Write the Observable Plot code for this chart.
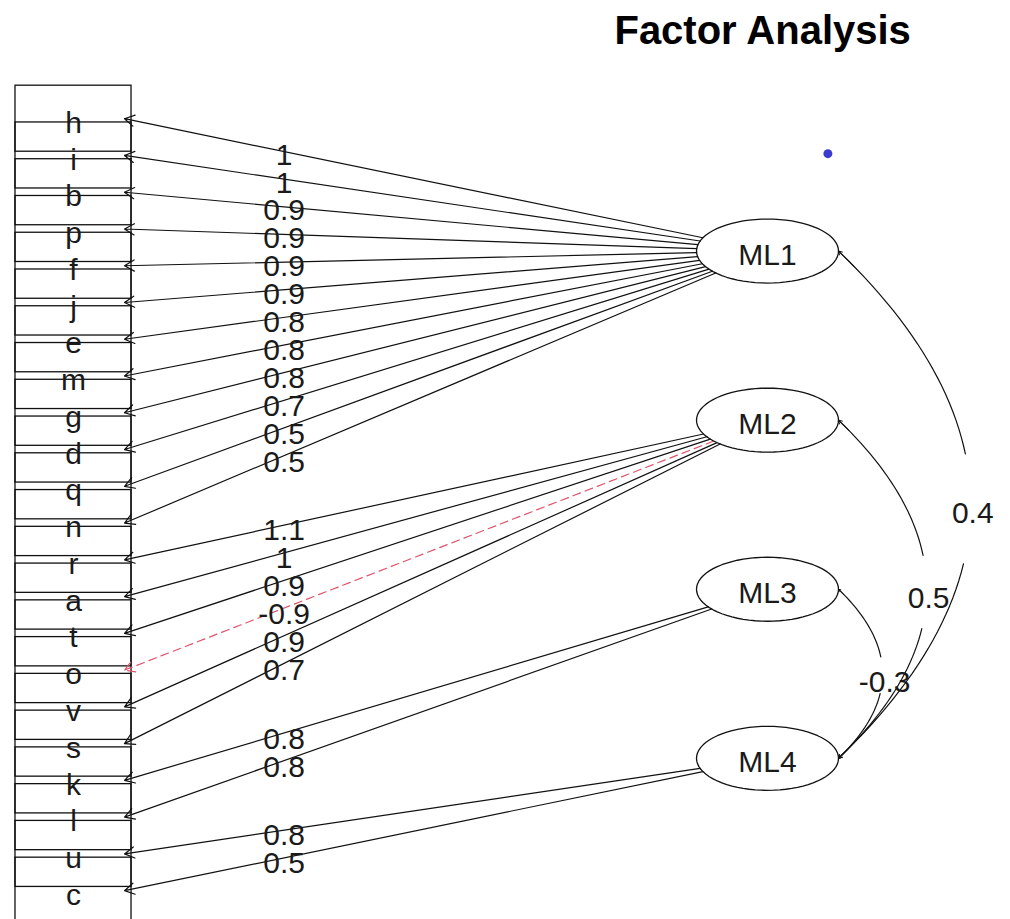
<!DOCTYPE html>
<html><head><meta charset="utf-8">
<script src="https://cdn.jsdelivr.net/npm/d3@7"></script>
<script src="https://cdn.jsdelivr.net/npm/@observablehq/plot@0.6"></script>
<style>body{margin:0;background:#fff;} #chart svg{display:block;}</style>
</head><body><div id="chart"></div>
<script>
// ---- data ----
const variables = ["h","i","b","p","f","j","e","m","g","d","q","n","r","a","t","o","v","s","k","l","u","c"];
const loadings = [1,1,0.9,0.9,0.9,0.9,0.8,0.8,0.8,0.7,0.5,0.5,1.1,1,0.9,-0.9,0.9,0.7,0.8,0.8,0.8,0.5];
const loadingFactor = ["ML1","ML1","ML1","ML1","ML1","ML1","ML1","ML1","ML1","ML1","ML1","ML1",
                       "ML2","ML2","ML2","ML2","ML2","ML2","ML3","ML3","ML4","ML4"];
const factors = ["ML1","ML2","ML3","ML4"];
const corrFrom = ["ML1","ML2","ML3"];
const corrTo = ["ML4","ML4","ML4"];
const corrValues = [0.4,0.5,-0.3];
const titleText = "Factor Analysis";
const markerX = [1.087];
const markerY = [21.05];

// ---- layout (diagram units, as in psych::fa.diagram) ----
const nVar = variables.length, nFac = factors.length;
const fScale = (nVar + 1) / (nFac + 1);
const FX = 1;                       // factor column
const rectHalfW = 0.0836, rectHalfH = 0.898;
const tipX = 0.0735;
const ellRx = 0.1023, ellRy = 0.8705;
const font = "'Liberation Sans', Arial, sans-serif";
const negColor = "#DF536B";

const facY = Object.fromEntries(factors.map((f, j) => [f, (nFac - j) * fScale]));
const vars = variables.map((v, i) => ({name: v, y: nVar - i, load: loadings[i], f: loadingFactor[i]}));

const arrows = vars.map(d => {
  const fy = facY[d.f];
  const dx = tipX - FX, dy = d.y - fy;
  const t = 1 / Math.sqrt((dx / ellRx) ** 2 + (dy / ellRy) ** 2);
  const frac = 0.76;
  return {
    x1: FX + t * dx, y1: fy + t * dy, x2: tipX, y2: d.y,
    lx: FX + frac * (rectHalfW - FX), ly: fy + frac * dy,
    label: String(d.load), neg: d.load < 0
  };
});

const ellPts = [];
factors.forEach(f => {
  for (let k = 0; k < 72; k++) {
    const a = 2 * Math.PI * k / 72;
    ellPts.push({f, x: FX + ellRx * Math.cos(a), y: facY[f] + ellRy * Math.sin(a)});
  }
});

const curvePts = [], curveLabels = [], curveHeads = [];
corrValues.forEach((r, k) => {
  const ya = facY[corrFrom[k]], yb = facY[corrTo[k]];
  const x0 = FX + ellRx;
  const dist = Math.abs(ya - yb);
  const bulge = 0.0138 * dist;
  const pt = t => ({x: x0 + bulge * 4 * t * (1 - t), y: ya + (yb - ya) * t});
  for (let i = 0; i <= 60; i++) {
    const t = i / 60;
    if (t <= 0.41) curvePts.push({seg: k + "a", ...pt(t)});
    if (t >= 0.615) curvePts.push({seg: k + "b", ...pt(t)});
  }
  const top = pt(0.5);
  curveLabels.push({x: top.x + 0.003, y: (ya + yb) / 2, label: String(r)});
  const s1 = pt(0.03), s0 = pt(0), e1 = pt(0.97), e0 = pt(1);
  curveHeads.push({x1: s1.x, y1: s1.y, x2: s0.x, y2: s0.y});
  curveHeads.push({x1: e1.x, y1: e1.y, x2: e0.x, y2: e0.y});
});

const markers = markerX.map((x, i) => ({x, y: markerY[i]}));

const plot = Plot.plot({
  width: 1010, height: 919,
  margin: 0,
  style: {background: "#fff", fontFamily: font},
  x: {domain: [-0.10519, 1.35014], axis: null},
  y: {domain: [0.216, 25.2155], axis: null},
  marks: [
    Plot.rect(vars, {x1: () => -rectHalfW, x2: () => rectHalfW, y1: d => d.y - rectHalfH, y2: d => d.y + rectHalfH,
      fill: "none", stroke: "#111", strokeWidth: 1.3}),
    Plot.text(vars, {x: () => 0, y: "y", text: "name", fontSize: 30, dy: 4.5, fill: "#1a1a1a", fontFamily: font}),
    Plot.arrow(arrows.filter(d => !d.neg), {x1: "x1", y1: "y1", x2: "x2", y2: "y2",
      stroke: "#111", strokeWidth: 1.2, headLength: 14, headAngle: 60}),
    Plot.arrow(arrows.filter(d => d.neg), {x1: "x1", y1: "y1", x2: "x2", y2: "y2",
      stroke: negColor, strokeWidth: 1.2, strokeDasharray: "8,5", headLength: 14, headAngle: 60}),
    Plot.text(arrows, {x: "lx", y: "ly", text: "label", fontSize: 30, dy: 4.5, fill: "#1a1a1a", fontFamily: font}),
    Plot.line(ellPts, {x: "x", y: "y", z: "f", curve: "linear-closed", stroke: "#111", strokeWidth: 1.3}),
    Plot.text(factors, {x: () => FX, y: f => facY[f], text: f => f, fontSize: 30, dy: 4.5, fill: "#1a1a1a", fontFamily: font}),
    Plot.line(curvePts, {x: "x", y: "y", z: "seg", stroke: "#111", strokeWidth: 1.2}),
    Plot.arrow(curveHeads, {x1: "x1", y1: "y1", x2: "x2", y2: "y2", stroke: "#111", strokeWidth: 1, headLength: 6, headAngle: 60}),
    Plot.text(curveLabels, {x: "x", y: "y", text: "label", fontSize: 30, dy: 9, fill: "#1a1a1a", fontFamily: font}),
    Plot.dot(markers, {x: "x", y: "y", r: 4.5, fill: "#3b3bcc", stroke: "none"}),
    Plot.text([titleText], {x: () => FX - 0.007, frameAnchor: "top", text: d => d, fontSize: 40, fontWeight: "bold",
      dy: 15, fill: "#000", fontFamily: font})
  ]
});
document.getElementById("chart").appendChild(plot);
</script>
</body></html>
